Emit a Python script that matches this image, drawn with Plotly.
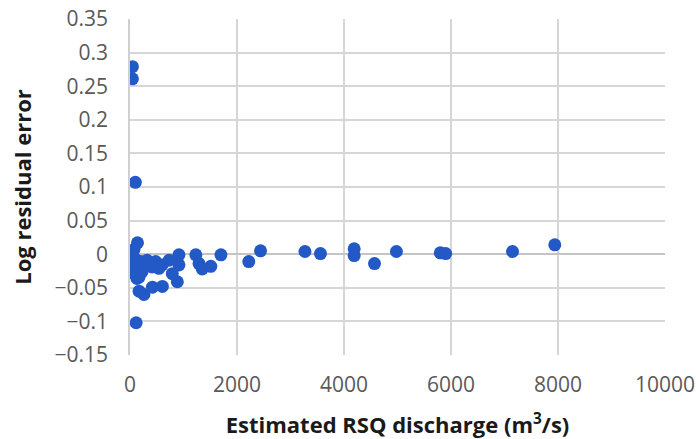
import plotly.graph_objects as go

# Estimated RSQ discharge (m3/s)
discharge = [45, 45, 100, 115,
             140, 75, 45, 40, 55, 75, 130, 170, 130, 225, 355, 480, 600, 730,
             915, 915, 885, 790, 540, 415, 200, 320, 170, 75, 170, 260, 420, 605,
             1230, 1290, 1350, 1510, 1700, 2220, 2440, 3270, 3560,
             4190, 4190, 4570, 4980, 5800, 5900, 7150, 7940]
# Log residual error
residual = [0.279, 0.261, 0.107, -0.102,
            0.017, 0.007, -0.003, -0.014, -0.019, -0.024, -0.009, -0.021, -0.036, -0.026, -0.016, -0.011, -0.016, -0.009,
            -0.001, -0.016, -0.041, -0.029, -0.021, -0.019, -0.011, -0.009, -0.034, -0.029, -0.055, -0.060, -0.049, -0.048,
            -0.001, -0.014, -0.022, -0.018, -0.001, -0.011, 0.005, 0.004, 0.001,
            0.008, -0.002, -0.014, 0.004, 0.002, 0.001, 0.004, 0.014]

y_ticks = [0.35, 0.3, 0.25, 0.2, 0.15, 0.1, 0.05, 0, -0.05, -0.1, -0.15]
y_labels = ["0.35", "0.3", "0.25", "0.2", "0.15", "0.1", "0.05", "0", "\u22120.05", "\u22120.1", "\u22120.15"]
x_ticks = [0, 2000, 4000, 6000, 8000, 10000]

fig = go.Figure()
fig.add_trace(go.Scatter(
    x=discharge, y=residual, mode="markers",
    marker=dict(size=13, color="#2259C6", line=dict(width=0)),
    showlegend=False,
))

font_family = "Open Sans, Liberation Sans, sans-serif"
fig.update_layout(
    width=696, height=439,
    margin=dict(l=130, r=31, t=19, b=84),
    plot_bgcolor="white", paper_bgcolor="white",
    font=dict(family=font_family, color="#404040"),
)
fig.update_xaxes(
    range=[0, 10000], tickvals=x_ticks, ticktext=[str(v) for v in x_ticks],
    automargin=False,
    showgrid=True, gridcolor="#d6d6d6", gridwidth=1.5,
    zeroline=False, showline=False, ticks="",
    tickfont=dict(size=21, color="#595959"), ticklabelstandoff=15,
    title=dict(text="<b>Estimated RSQ discharge (m<sup>3</sup>/s)</b>",
               font=dict(size=22, color="#1a1a1a"), standoff=20),
)
fig.update_yaxes(
    range=[-0.15, 0.35], tickvals=y_ticks, ticktext=y_labels,
    automargin=False,
    showgrid=True, gridcolor="#d6d6d6", gridwidth=1.5,
    zeroline=True, zerolinecolor="#c4c4c4", zerolinewidth=1.5,
    showline=True, linecolor="#d0d0d0", linewidth=1.5, mirror=False,
    ticks="", tickfont=dict(size=21, color="#595959"), ticklabelstandoff=16,
    title=dict(text="<b>Log residual error</b>",
               font=dict(size=22, color="#1a1a1a"), standoff=17),
)
fig.write_html("out.html")
